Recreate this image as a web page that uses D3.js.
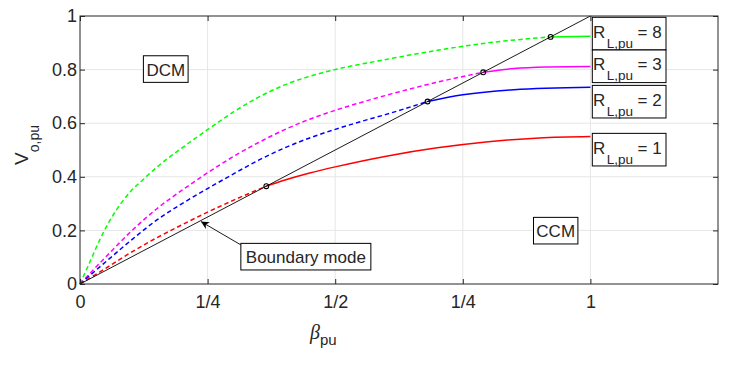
<!DOCTYPE html>
<html><head><meta charset="utf-8">
<script src="https://cdn.jsdelivr.net/npm/d3@7"></script>
<style>
body{margin:0;background:#fff;}
svg{display:block;}
text{font-family:"Liberation Sans",Arial,Helvetica,sans-serif;fill:#262626;}
</style>
</head><body>
<svg id="chart" width="730" height="368"></svg>
<script>
// ---------- data ----------
const xTickValues = [0, 0.25, 0.5, 0.75, 1];
const xTickLabels = ["0", "1/4", "1/2", "1/4", "1"];
const yTickValues = [0, 0.2, 0.4, 0.6, 0.8, 1];
const yTickLabels = ["0", "0.2", "0.4", "0.6", "0.8", "1"];

const seriesLabels = ["8", "3", "2", "1"];          // R_L,pu
const boundaryBeta = [0.922, 0.79, 0.681, 0.365];    // DCM/CCM crossing per series

const beta_R8 = [0, 0.02, 0.04, 0.06, 0.08, 0.1, 0.125, 0.15, 0.175, 0.2, 0.25, 0.3, 0.35, 0.4, 0.45, 0.5, 0.6, 0.7, 0.8, 0.922, 1.0];
const vo_R8   = [0, 0.085, 0.17, 0.242, 0.3, 0.347, 0.392, 0.435, 0.473, 0.508, 0.576, 0.641, 0.697, 0.742, 0.775, 0.80, 0.838, 0.872, 0.90, 0.922, 0.924];

const beta_R3 = [0, 0.05, 0.1, 0.15, 0.2, 0.25, 0.3, 0.35, 0.4, 0.45, 0.5, 0.6, 0.7, 0.79, 0.85, 0.92, 1.0];
const vo_R3   = [0, 0.10, 0.196, 0.28, 0.35, 0.415, 0.475, 0.528, 0.575, 0.615, 0.648, 0.704, 0.753, 0.79, 0.804, 0.81, 0.812];

const beta_R2 = [0, 0.05, 0.1, 0.15, 0.2, 0.25, 0.3, 0.35, 0.4, 0.45, 0.5, 0.55, 0.6, 0.681, 0.75, 0.85, 1.0];
const vo_R2   = [0, 0.082, 0.163, 0.238, 0.30, 0.356, 0.41, 0.462, 0.507, 0.545, 0.577, 0.606, 0.633, 0.681, 0.706, 0.725, 0.734];

const beta_R1 = [0, 0.05, 0.1, 0.15, 0.2, 0.25, 0.3, 0.365, 0.4, 0.45, 0.5, 0.6, 0.7, 0.8, 0.9, 1.0];
const vo_R1   = [0, 0.058, 0.118, 0.172, 0.221, 0.268, 0.312, 0.365, 0.387, 0.414, 0.437, 0.477, 0.508, 0.531, 0.545, 0.55];

const boundaryLineBeta = [0, 1];
const boundaryLineVo   = [0, 1];

// ---------- style / layout ----------
const seriesColors = ["#00ff00", "#ff00ff", "#0000ff", "#ff0000"];
const seriesBeta = [beta_R8, beta_R3, beta_R2, beta_R1];
const seriesVo = [vo_R8, vo_R3, vo_R2, vo_R1];

const W = 730, H = 368;
const m = {left: 80, top: 16, right: 12, bottom: 84};
const x = d3.scaleLinear().domain([0, 1.25]).range([m.left, W - m.right]);
const y = d3.scaleLinear().domain([0, 1]).range([H - m.bottom, m.top]);
const ink = "#262626";

const svg = d3.select("#chart");

// grid
const grid = svg.append("g");
grid.selectAll("line.gx").data(xTickValues.filter(d => d > 0)).join("line")
  .attr("x1", d => x(d)).attr("x2", d => x(d))
  .attr("y1", y(0)).attr("y2", y(1))
  .attr("stroke", "#e6e6e6").attr("stroke-width", 1);
grid.selectAll("line.gy").data(yTickValues.filter(d => d > 0 && d < 1)).join("line")
  .attr("x1", x(0)).attr("x2", x(1.25))
  .attr("y1", d => y(d)).attr("y2", d => y(d))
  .attr("stroke", "#e6e6e6").attr("stroke-width", 1);

// curves
const line = d3.line().x(d => x(d[0])).y(d => y(d[1])).curve(d3.curveMonotoneX);
const curves = svg.append("g");
seriesBeta.forEach((bs, i) => {
  const pts = bs.map((b, j) => [b, seriesVo[i][j]]);
  const bb = boundaryBeta[i];
  const dcm = pts.filter(p => p[0] <= bb + 1e-9);
  const ccm = pts.filter(p => p[0] >= bb - 1e-9);
  curves.append("path").attr("d", line(dcm)).attr("fill", "none")
    .attr("stroke", seriesColors[i]).attr("stroke-width", 1.5)
    .attr("stroke-dasharray", "4.5,3");
  curves.append("path").attr("d", line(ccm)).attr("fill", "none")
    .attr("stroke", seriesColors[i]).attr("stroke-width", 1.5);
});

// boundary line
svg.append("path")
  .attr("d", d3.line().x(d => x(d[0])).y(d => y(d[1]))(boundaryLineBeta.map((b, j) => [b, boundaryLineVo[j]])))
  .attr("fill", "none").attr("stroke", "#000").attr("stroke-width", 0.9);

// crossing markers
svg.append("g").selectAll("circle").data(boundaryBeta).join("circle")
  .attr("cx", d => x(d))
  .attr("cy", (d, i) => y(seriesVo[i][seriesBeta[i].indexOf(d)]))
  .attr("r", 2.4).attr("fill", "none").attr("stroke", "#000").attr("stroke-width", 1.1);

// axes
function styleAxis(g) {
  g.select(".domain").remove();
  g.selectAll(".tick line").attr("stroke", ink);
  g.selectAll(".tick text").attr("font-size", 18).attr("fill", ink);
  g.attr("font-family", null).attr("font-size", null);
}
svg.append("g").attr("transform", `translate(0,${y(0)})`)
  .call(d3.axisBottom(x).tickValues(xTickValues).tickFormat((d, i) => xTickLabels[i])
        .tickSizeInner(-5).tickSizeOuter(0).tickPadding(11))
  .call(styleAxis);
svg.append("g").attr("transform", `translate(0,${y(1)})`)
  .call(d3.axisTop(x).tickValues(xTickValues).tickFormat("").tickSizeInner(-5).tickSizeOuter(0))
  .call(styleAxis);
svg.append("g").attr("transform", `translate(${x(0)},0)`)
  .call(d3.axisLeft(y).tickValues(yTickValues).tickFormat((d, i) => yTickLabels[i])
        .tickSizeInner(-5).tickSizeOuter(0).tickPadding(3))
  .call(styleAxis);
svg.append("g").attr("transform", `translate(${x(1.25)},0)`)
  .call(d3.axisRight(y).tickValues(yTickValues).tickFormat("").tickSizeInner(-5).tickSizeOuter(0))
  .call(styleAxis);
svg.append("rect").attr("x", x(0)).attr("y", y(1))
  .attr("width", x(1.25) - x(0)).attr("height", y(0) - y(1))
  .attr("fill", "none").attr("stroke", ink).attr("stroke-width", 1);

// axis labels
const yl = svg.append("text").attr("transform", `translate(28,145) rotate(-90)`).attr("text-anchor", "middle");
yl.append("tspan").attr("font-size", 19).text("V");
yl.append("tspan").attr("font-size", 14).attr("dy", 11).text("o,pu");

const xl = svg.append("text").attr("x", 310).attr("y", 339);
xl.append("tspan").attr("font-size", 20).attr("font-style", "italic")
  .attr("font-family", "'Liberation Serif','Times New Roman',serif").text("β");
xl.append("tspan").attr("font-size", 15).attr("dy", 6).text("pu");

// annotation boxes
function plainBox(bx, bv, label, boxW) {
  const cx = x(bx), base = y(bv);
  svg.append("rect").attr("x", cx - boxW / 2).attr("y", base - 20)
    .attr("width", boxW).attr("height", 26.6)
    .attr("fill", "#fff").attr("stroke", "#000").attr("stroke-width", 1);
  svg.append("text").attr("x", cx).attr("y", base).attr("text-anchor", "middle")
    .attr("font-size", 17).text(label);
}

// arrow for boundary mode
svg.append("defs").append("marker").attr("id", "ah")
  .attr("viewBox", "0 0 10 10").attr("refX", 10).attr("refY", 5)
  .attr("markerUnits", "userSpaceOnUse").attr("markerWidth", 8).attr("markerHeight", 8)
  .attr("orient", "auto")
  .append("path").attr("d", "M0,0 L10,5 L0,10 L3,5 Z").attr("fill", "#000");
svg.append("line")
  .attr("x1", x(0.315)).attr("y1", y(0.146))
  .attr("x2", x(0.237)).attr("y2", y(0.233))
  .attr("stroke", "#000").attr("stroke-width", 0.9).attr("marker-end", "url(#ah)");

plainBox(0.168, 0.777, "DCM", 44.7);
plainBox(0.932, 0.174, "CCM", 44.4);
plainBox(0.4425, 0.077, "Boundary mode", 130);

// R_L,pu labels
const rBase = [0.919, 0.797, 0.665, 0.486];
seriesLabels.forEach((lab, i) => {
  const tx = x(1.0) + 2.6, base = y(rBase[i]);
  svg.append("rect").attr("x", tx - 0.7).attr("y", base - 20.4)
    .attr("width", 73.7).attr("height", 32.6)
    .attr("fill", "#fff").attr("stroke", "#000").attr("stroke-width", 1);
  const t = svg.append("text").attr("x", tx).attr("y", base);
  t.append("tspan").attr("font-size", 17).text("R");
  t.append("tspan").attr("font-size", 13.5).attr("dy", 10).attr("dx", 1.5).text("L,pu");
  t.append("tspan").attr("font-size", 17).attr("dy", -10).attr("dx", 4.5).text("= " + lab);
});
</script>
</body></html>
